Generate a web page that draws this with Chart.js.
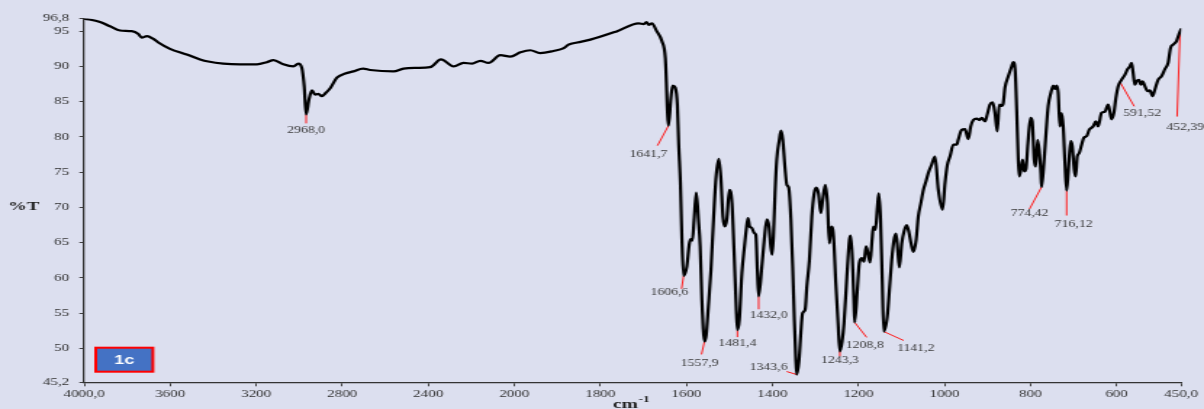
<!DOCTYPE html>
<html>
<head>
<meta charset="utf-8">
<title>IR spectrum 1c</title>
<script src="https://cdn.jsdelivr.net/npm/chart.js@4.4.1/dist/chart.umd.min.js"></script>
<style>
  html, body { margin: 0; padding: 0; background: #dcdfef; overflow: hidden; }
</style>
</head>
<body>
<canvas id="ir" width="830" height="409" style="width:1204px;height:409px;"></canvas>
<script>
// Wavenumber (cm-1), from high to low
const wavenumbers = [
  4000, 3926, 3880, 3833, 3779, 3748, 3732, 3709, 3678, 3655,
  3601, 3523, 3461, 3423, 3353, 3275, 3197, 3151, 3120, 3074,
  3027, 3004, 2988, 2977, 2968.0, 2955, 2941, 2926, 2911, 2895,
  2875, 2856, 2825, 2786, 2748, 2704, 2670, 2562, 2515, 2453,
  2391, 2341, 2282, 2236, 2197, 2158, 2120, 2065, 2019, 1986,
  1963, 1940, 1909, 1885, 1874, 1854, 1823, 1761, 1711, 1699,
  1693, 1688, 1680, 1669, 1657, 1649, 1641.7, 1636, 1632, 1626,
  1621, 1618, 1614, 1610.5, 1606.6, 1599, 1593, 1589.5, 1586, 1582,
  1577, 1572, 1568, 1564, 1557.9, 1554, 1549, 1543, 1537, 1531,
  1524.5, 1520, 1515, 1510.6, 1506, 1500, 1494, 1489, 1484.3, 1481.4,
  1477, 1471, 1465, 1461, 1457, 1453, 1448, 1442.5, 1438.5, 1435,
  1432.0, 1424.6, 1419, 1413, 1408, 1404, 1400.7, 1397.7, 1394, 1390,
  1384, 1380, 1376, 1370.5, 1366.5, 1362, 1357, 1352.6, 1349, 1346,
  1343.6, 1338, 1334, 1330, 1324, 1320, 1314, 1308.5, 1303, 1298.5,
  1293, 1287.6, 1283, 1277, 1272, 1267.6, 1263, 1258, 1252.7, 1247.4,
  1243.3, 1238, 1233.6, 1227, 1221, 1218, 1214, 1210.5, 1208.8, 1202.6,
  1198, 1192, 1187, 1182.4, 1177.7, 1173, 1168.4, 1165.4, 1160.7, 1156,
  1152.8, 1149, 1145, 1141.2, 1133, 1128, 1122.6, 1117.3, 1112.6, 1108.7,
  1105, 1099.4, 1094, 1088, 1082.4, 1077.8, 1072.5, 1066, 1061, 1055,
  1049, 1043, 1037.6, 1029.7, 1022, 1014.4, 1004.6, 998.8, 993.5, 987,
  979.5, 971.6, 968, 960, 952.4, 944.7, 939, 933, 925, 919,
  913.6, 906, 900.6, 894.3, 888, 882.7, 877.4, 872.7, 867, 863.4,
  859.4, 851.8, 844, 840.2, 836, 832.3, 828.6, 826.3, 822.3, 818.4,
  814.7, 810.7, 806, 800, 796, 791.5, 788, 783.6, 780, 776,
  774.42, 769, 764, 759, 752.6, 747.3, 743.3, 739.4, 735.7, 731.7,
  727.8, 724, 720, 716.12, 712.4, 706.8, 703, 698.5, 695.2, 691.5,
  687, 681.3, 676, 669.7, 663.7, 654.4, 648, 642.8, 635, 627,
  619.6, 615.6, 611.7, 606.3, 601.7, 596.3, 588.4, 580.7, 574.5, 569,
  565.2, 561.5, 557.5, 553.6, 548, 543.6, 539.6, 534.3, 528, 522.7,
  516.4, 511, 503.4, 495.5, 487.8, 480.2, 474.6, 468.6, 460.7, 455.4,
  450
];

// Transmittance (%T) at each wavenumber above
const transmittance = [
  96.8, 96.3, 95.7, 95.1, 95.0, 94.6, 94.1, 94.3, 93.9, 93.4,
  92.5, 91.7, 91.0, 90.7, 90.4, 90.3, 90.3, 90.6, 90.9, 90.3,
  90.0, 90.4, 89.8, 87.2, 83.2, 85.3, 86.6, 86.0, 86.1, 85.8,
  86.3, 86.9, 88.4, 89.0, 89.3, 89.7, 89.5, 89.3, 89.7, 89.8,
  89.9, 91.0, 90.0, 90.5, 90.4, 90.8, 90.5, 91.6, 91.4, 92.0,
  92.3, 91.9, 92.2, 92.6, 93.1, 93.4, 93.8, 95.0, 96.1, 96.0,
  96.3, 95.9, 96.1, 95.0, 93.6, 91.2, 81.6, 85.5, 87.3, 87.0,
  84.5, 79.0, 73.5, 65.5, 60.3, 61.6, 64.9, 65.5, 65.3, 68.3,
  72.1, 68.3, 64.5, 56.9, 51.0, 51.9, 55.9, 61.1, 68.3, 74.4,
  76.9, 74.4, 68.7, 67.3, 68.3, 72.5, 70.6, 63.5, 55.9, 52.6,
  54.0, 60.7, 64.5, 66.8, 68.5, 67.3, 67.1, 66.4, 66.1, 61.1,
  57.4, 61.6, 65.4, 68.3, 67.3, 64.5, 63.3, 65.9, 72.0, 76.8,
  79.6, 80.9, 79.6, 75.4, 73.2, 72.8, 68.3, 61.1, 54.0, 49.0,
  46.3, 48.4, 52.2, 55.0, 55.5, 58.8, 62.6, 68.7, 72.0, 72.8,
  72.0, 69.2, 71.1, 73.2, 70.6, 64.9, 67.3, 65.9, 59.3, 53.6,
  49.6, 51.0, 53.6, 60.2, 65.4, 66.0, 62.6, 56.4, 53.7, 58.3,
  62.1, 62.8, 62.3, 64.5, 63.5, 62.2, 65.4, 67.3, 66.8, 70.1,
  72.0, 68.7, 60.2, 52.4, 54.5, 58.3, 62.6, 65.4, 66.3, 64.0,
  61.5, 64.9, 66.6, 67.5, 66.4, 64.9, 63.7, 65.4, 68.7, 70.6,
  72.5, 73.7, 74.9, 76.1, 77.2, 72.5, 69.7, 73.5, 76.0, 77.3,
  78.9, 78.9, 79.6, 81.0, 81.1, 79.7, 81.5, 82.4, 82.6, 82.4,
  82.7, 82.2, 83.2, 84.6, 84.9, 83.4, 80.8, 84.6, 84.4, 84.8,
  87.0, 88.6, 90.0, 90.6, 89.6, 83.9, 76.8, 74.4, 75.4, 76.8,
  75.1, 75.4, 79.1, 82.7, 82.2, 76.8, 75.8, 79.6, 78.2, 74.9,
  72.9, 76.3, 80.6, 84.4, 86.3, 87.3, 86.8, 87.3, 86.3, 81.5,
  83.4, 81.5, 76.3, 72.4, 74.9, 79.4, 78.7, 75.4, 74.4, 77.2,
  77.7, 78.9, 79.9, 80.1, 81.0, 81.5, 82.2, 81.5, 83.4, 83.6,
  84.6, 83.6, 82.5, 83.4, 85.5, 87.2, 88.1, 88.8, 89.6, 90.0,
  90.5, 89.1, 87.4, 87.9, 88.1, 87.4, 87.9, 87.2, 86.5, 86.6,
  85.8, 86.7, 88.1, 88.6, 89.6, 90.5, 92.6, 93.1, 93.6, 94.5,
  95.3
];

// Axis ticks and their printed labels
const xTickValues = [4000, 3600, 3200, 2800, 2400, 2000, 1800, 1600, 1400, 1200, 1000, 800, 600, 450];
const xTickLabels = ['4000,0', '3600', '3200', '2800', '2400', '2000', '1800', '1600', '1400', '1200', '1000', '800', '600', '450,0'];
const yTickValues = [45.2, 50, 55, 60, 65, 70, 75, 80, 85, 90, 95, 96.8];
const yTickLabels = ['45,2', '50', '55', '60', '65', '70', '75', '80', '85', '90', '95', '96,8'];

// Assigned bands
const peakWavenumbers = [2968.0, 1641.7, 1606.6, 1557.9, 1481.4, 1432.0, 1343.6, 1243.3, 1208.8, 1141.2, 774.42, 716.12, 591.52, 452.39];
const peakLabels = ['2968,0', '1641,7', '1606,6', '1557,9', '1481,4', '1432,0', '1343,6', '1243,3', '1208,8', '1141,2', '774,42', '716,12', '591,52', '452,39'];

// ---- layout ----
const PAGE_W = 1204;
const CANVAS_W = 830;
const STRETCH = PAGE_W / CANVAS_W;   // the canvas is shown widened to the page width
const SCALE_BREAK = 2000;            // above this wavenumber the axis is compressed 2:1

// Leader line end [dx, dy] from the band, then label centre [dx, dy] from the leader end (page px)
const peakLabelLayout = [
  [0, 9, 0, 7], [-11, 20, -9, 9], [-2, 13, -12, 4], [-3, 13, -2, 9],
  [0, 7, 0, 6], [0, 13, 10, 6], [-10, -3, -18, -4], [0, 5, 0, 4],
  [12, 15, -2, 8], [20, 9, 12, 8], [-12, 22, 0, 4], [0, 25, 7, 9],
  [14, 24, 8, 7], [-3, 85, 8, 11]
];

// Linear wavenumber axis with a 2x compression above SCALE_BREAK
class BreakLinearScale extends Chart.LinearScale {
  _span(v) {
    return v >= SCALE_BREAK ? (this.max - v) / 2 : (this.max - SCALE_BREAK) / 2 + (SCALE_BREAK - v);
  }
  getPixelForValue(value) {
    if (value === null || isNaN(value)) return NaN;
    return this.getPixelForDecimal(this._span(value) / this._span(this.min));
  }
  getValueForPixel(pixel) {
    const u = this.getDecimalForPixel(pixel) * this._span(this.min);
    const uBreak = (this.max - SCALE_BREAK) / 2;
    return u <= uBreak ? this.max - 2 * u : SCALE_BREAK - (u - uBreak);
  }
}
BreakLinearScale.id = 'breakLinear';
BreakLinearScale.defaults = {};
Chart.register(BreakLinearScale);

function transmittanceAt(wn) {
  for (let i = 0; i < wavenumbers.length - 1; i++) {
    const a = wavenumbers[i], b = wavenumbers[i + 1];
    if (wn <= a && wn >= b) {
      const t = a === b ? 0 : (a - wn) / (a - b);
      return transmittance[i] + t * (transmittance[i + 1] - transmittance[i]);
    }
  }
  return transmittance[transmittance.length - 1];
}

const background = {
  id: 'background',
  beforeDraw(chart) {
    const { ctx, width, height } = chart;
    ctx.save();
    ctx.fillStyle = '#dcdfef';
    ctx.fillRect(0, 0, width, height);
    ctx.restore();
  }
};

const peakMarkers = {
  id: 'peakMarkers',
  beforeDatasetsDraw(chart) {
    const { ctx, scales: { x, y } } = chart;
    ctx.save();
    peakWavenumbers.forEach((wn, i) => {
      const [ldx, ldy] = peakLabelLayout[i];
      const px = x.getPixelForValue(wn);
      const py = y.getPixelForValue(transmittanceAt(wn));
      ctx.strokeStyle = '#ff1a1a';
      ctx.lineWidth = 1;
      ctx.beginPath();
      ctx.moveTo(px, py);
      ctx.lineTo(px + ldx / STRETCH, py + ldy);
      ctx.stroke();
    });
    ctx.restore();
  },
  afterDatasetsDraw(chart) {
    const { ctx, scales: { x, y } } = chart;
    ctx.save();
    ctx.fillStyle = '#3a3a3a';
    ctx.font = '9.5px "Liberation Serif", serif';
    ctx.textAlign = 'center';
    ctx.textBaseline = 'middle';
    peakWavenumbers.forEach((wn, i) => {
      const [ldx, ldy, tdx, tdy] = peakLabelLayout[i];
      const px = x.getPixelForValue(wn);
      const py = y.getPixelForValue(transmittanceAt(wn));
      ctx.fillText(peakLabels[i], px + (ldx + tdx) / STRETCH, py + ldy + tdy);
    });
    ctx.restore();
  }
};

const axisTitles = {
  id: 'axisTitles',
  afterDraw(chart) {
    const { ctx, chartArea } = chart;
    ctx.save();
    ctx.fillStyle = '#1e1e1e';
    // y title
    ctx.font = 'bold 13px "Liberation Serif", serif';
    ctx.textAlign = 'center';
    ctx.textBaseline = 'middle';
    ctx.fillText('%T', 16.3, (chartArea.top + chartArea.bottom) / 2 + 6);
    // x title: cm with superscript -1
    const cx = (chartArea.left + chartArea.right) / 2 - 13.5;
    ctx.textAlign = 'left';
    ctx.textBaseline = 'alphabetic';
    ctx.font = 'bold 13.5px "Liberation Serif", serif';
    ctx.fillText('cm', cx, 407.5);
    const w = ctx.measureText('cm').width;
    ctx.font = 'bold 9px "Liberation Serif", serif';
    ctx.fillText('-1', cx + w + 0.5, 402);

    // sample tag
    const bx = chartArea.left + 8, by = chartArea.bottom - 34.6, bw = 39.4, bh = 24;
    ctx.fillStyle = '#4472c4';
    ctx.fillRect(bx, by, bw, bh);
    ctx.strokeStyle = '#ff0000';
    ctx.lineWidth = 2;
    ctx.strokeRect(bx, by, bw, bh);
    ctx.fillStyle = '#ffffff';
    ctx.font = 'bold 12.5px "Liberation Sans", Arial, sans-serif';
    ctx.textAlign = 'center';
    ctx.textBaseline = 'middle';
    ctx.fillText('1c', bx + bw / 2, by + bh / 2 + 0.5);
    ctx.restore();
  }
};

const tickFont = { family: '"Liberation Serif", serif', size: 10.4 };

new Chart(document.getElementById('ir'), {
  type: 'line',
  data: {
    datasets: [{
      data: wavenumbers.map((wn, i) => ({ x: wn, y: transmittance[i] })),
      borderColor: '#000000',
      borderWidth: 2.2,
      pointRadius: 0,
      cubicInterpolationMode: 'monotone',
      borderJoinStyle: 'round',
      borderCapStyle: 'round',
      fill: false
    }]
  },
  options: {
    responsive: false,
    devicePixelRatio: 1,
    animation: false,
    events: [],
    layout: { padding: { top: 18.5, right: 15.8, left: 0, bottom: 0 } },
    plugins: { legend: { display: false }, tooltip: { enabled: false } },
    scales: {
      x: {
        type: 'breakLinear',
        min: 450,
        max: 4000,
        bounds: 'data',
        afterBuildTicks: (scale) => { scale.ticks = xTickValues.map(v => ({ value: v })); },
        afterFit: (scale) => { scale.height = 26.7; },
        ticks: {
          autoSkip: false,
          maxRotation: 0,
          padding: 2,
          color: '#333333',
          font: tickFont,
          callback: (value, index) => xTickLabels[index]
        },
        grid: { display: true, drawOnChartArea: false, drawTicks: true, tickLength: 4, color: '#404040', lineWidth: 1 },
        border: { display: true, color: '#333333', width: 1.3 }
      },
      y: {
        type: 'linear',
        min: 45.2,
        max: 96.8,
        bounds: 'data',
        afterBuildTicks: (scale) => { scale.ticks = yTickValues.map(v => ({ value: v })); },
        afterFit: (scale) => { scale.width = 58; },
        ticks: {
          autoSkip: false,
          padding: 7,
          color: '#333333',
          font: tickFont,
          callback: (value, index) => yTickLabels[index]
        },
        grid: { display: true, drawOnChartArea: false, drawTicks: true, tickLength: 3.3, color: '#404040', lineWidth: 1 },
        border: { display: true, color: '#333333', width: 1.3 }
      }
    }
  },
  plugins: [background, peakMarkers, axisTitles]
});
</script>
</body>
</html>
